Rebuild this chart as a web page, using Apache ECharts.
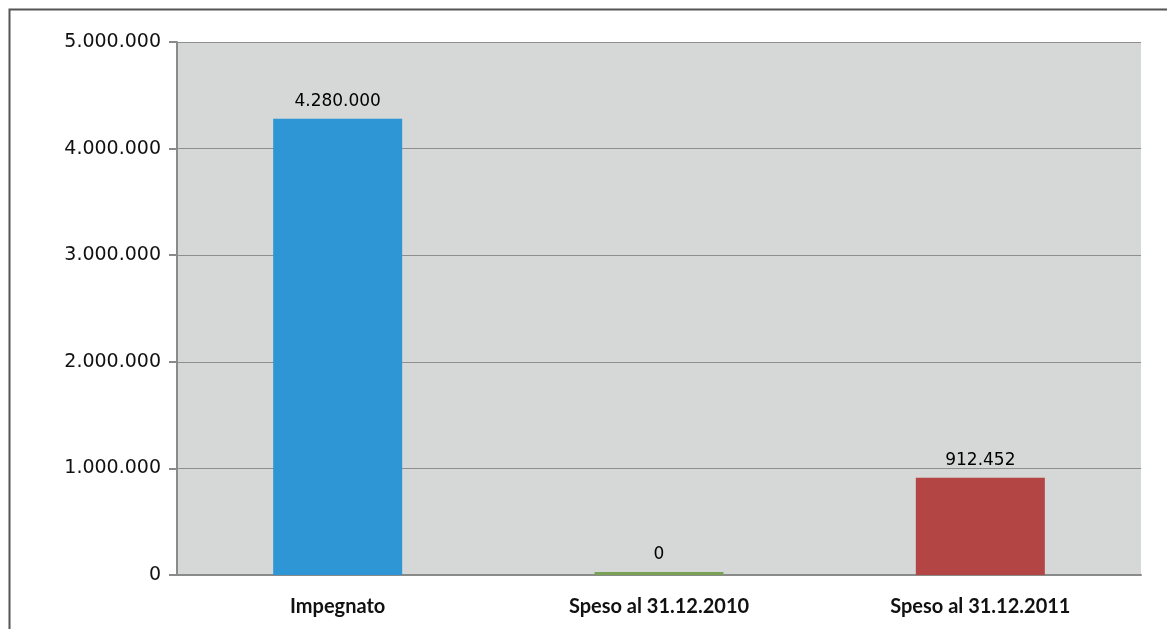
<!DOCTYPE html>
<html>
<head>
<meta charset="utf-8">
<style>
  html, body { margin: 0; padding: 0; background: #ffffff; }
  #chart { width: 1167px; height: 629px; }
</style>
<script src="https://cdn.jsdelivr.net/npm/echarts@6/dist/echarts.min.js"></script>
</head>
<body>
<div id="chart"></div>
<script>
// Categories and amounts
const categories = ['Impegnato', 'Speso al 31.12.2010', 'Speso al 31.12.2011'];
const amounts = [4280000, 0, 912452];
const barColors = ['#2e96d4', '#7aa256', '#b34545'];
const yTicks = { min: 0, max: 5000000, interval: 1000000 };

// Italian thousands separator
function fmt(v) {
  return Math.round(v).toString().replace(/\B(?=(\d{3})+(?!\d))/g, '.');
}

const chart = echarts.init(document.getElementById('chart'), null, { renderer: 'canvas' });

const barData = amounts.map((v, i) => ({
  value: v,
  itemStyle: { color: barColors[i] }
}));

chart.setOption({
  backgroundColor: '#ffffff',
  animation: false,
  graphic: [{
    type: 'rect',
    shape: { x: 9.5, y: 9.5, width: 1300, height: 800 },
    style: { fill: 'none', stroke: '#555555', lineWidth: 2 },
    silent: true,
    z: -10
  }],
  grid: {
    left: 177, right: 26, top: 42, bottom: 54,
    show: true,
    backgroundColor: '#d6d7d7',
    borderWidth: 0
  },
  xAxis: {
    type: 'category',
    data: categories,
    z: 1,
    axisLine: { show: true, lineStyle: { color: '#8a8a8a', width: 2 } },
    axisTick: { show: false },
    axisLabel: {
      color: '#111111',
      fontFamily: 'Lato',
      fontWeight: 'bold',
      fontSize: 20,
      margin: 22
    }
  },
  yAxis: {
    type: 'value',
    min: yTicks.min,
    max: yTicks.max,
    interval: yTicks.interval,
    axisLine: { show: true, lineStyle: { color: '#8a8a8a', width: 2 } },
    axisTick: { show: true, inside: false, length: 8, lineStyle: { color: '#8a8a8a', width: 2 } },
    splitLine: { show: true, lineStyle: { color: '#8e8e8e', width: 1 } },
    axisLabel: {
      color: '#111111',
      fontFamily: '"DejaVu Sans"',
      fontSize: 19,
      margin: 16,
      formatter: fmt
    }
  },
  series: [{
    type: 'bar',
    data: barData,
    barWidth: 129,
    barMinHeight: 3,
    z: 3,
    label: {
      show: true,
      position: 'top',
      distance: 9,
      color: '#000000',
      fontFamily: '"DejaVu Sans"',
      fontSize: 17,
      formatter: p => fmt(p.value)
    }
  }]
});
</script>
</body>
</html>
